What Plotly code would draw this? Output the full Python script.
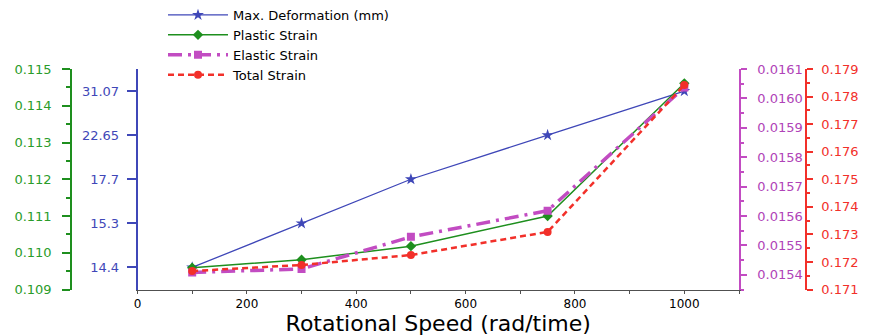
import plotly.graph_objects as go

# ---- data ----
speed = [100, 300, 500, 750, 1000]
max_deformation = [14.4, 15.3, 17.7, 22.65, 31.07]
plastic_strain = [0.10959, 0.10981, 0.11018, 0.11100, 0.11461]
elastic_strain = [0.015408, 0.015420, 0.015529, 0.015618, 0.016037]
total_strain = [0.17167, 0.17189, 0.17225, 0.17309, 0.17842]

deform_cats = [str(v) for v in max_deformation]

BLUE = "#3f47b8"
GREEN = "#1e8f1e"
MAGENTA = "#c24cc2"
RED = "#f2302a"
FONT = "DejaVu Sans"

# figure is drawn inside the page body (8px default margin)
W, H, OFF = 866, 328, 8


def px_x(v):
    return (v - OFF) / W


def px_y(v):
    return (H - (v - OFF)) / H


fig = go.Figure()
fig.add_trace(go.Scatter(x=speed, y=deform_cats, name="Max. Deformation (mm)",
                         mode="lines+markers", yaxis="y",
                         line=dict(color=BLUE, width=1.3),
                         marker=dict(symbol="star", size=9, color=BLUE)))
fig.add_trace(go.Scatter(x=speed, y=plastic_strain, name="Plastic Strain",
                         mode="lines+markers", yaxis="y2",
                         line=dict(color=GREEN, width=1.5),
                         marker=dict(symbol="diamond", size=8, color=GREEN)))
fig.add_trace(go.Scatter(x=speed, y=elastic_strain, name="Elastic Strain",
                         mode="lines+markers", yaxis="y3",
                         line=dict(color=MAGENTA, width=3.5, dash="14px,6px,3px,6px"),
                         marker=dict(symbol="square", size=8, color=MAGENTA)))
fig.add_trace(go.Scatter(x=speed, y=total_strain, name="Total Strain",
                         mode="lines+markers", yaxis="y4",
                         line=dict(color=RED, width=2.5, dash="6px,4px"),
                         marker=dict(symbol="circle", size=8, color=RED)))

xd = [px_x(137.5), px_x(739)]
yd = [px_y(289.5), px_y(69)]
TF = 13

fig.update_layout(
    width=W, height=H,
    margin=dict(l=0, r=0, t=0, b=0, autoexpand=False),
    paper_bgcolor="white", plot_bgcolor="white",
    font=dict(family=FONT, color="black"),
    showlegend=True,
    legend=dict(x=px_x(163), y=1.0 + 8 / H, xanchor="left", yanchor="top",
                bgcolor="rgba(0,0,0,0)", font=dict(family=FONT, size=13),
                itemwidth=60, tracegroupgap=0),
    xaxis=dict(domain=xd, range=[0, 1100], anchor="y", automargin=False,
               showline=True, linecolor="#505050", linewidth=1.2,
               ticks="outside", ticklen=3, tickcolor="#505050",
               tickvals=[0, 200, 400, 600, 800, 1000],
               minor=dict(ticks="outside", ticklen=3, dtick=100, tickcolor="#505050"),
               showgrid=False, zeroline=False,
               tickfont=dict(family=FONT, size=12, color="black"),
               title=dict(text="Rotational Speed (rad/time)", standoff=5,
                          font=dict(family=FONT, size=22, color="black"))),
    yaxis=dict(domain=yd, type="category", categoryorder="array", automargin=False,
               categoryarray=deform_cats, range=[-0.5, 4.5], anchor="x", side="left",
               showline=True, linecolor=BLUE, linewidth=1.5,
               ticks="outside", ticklen=9, tickcolor=BLUE, tickwidth=1.5,
               showgrid=False, zeroline=False, ticklabelstandoff=5,
               tickfont=dict(family=FONT, size=TF, color=BLUE)),
    yaxis2=dict(domain=yd, overlaying="y", anchor="free", position=px_x(71), side="left",
                range=[0.109, 0.115], dtick=0.001, tickformat=".3f", automargin=False,
                showline=True, linecolor=GREEN, linewidth=1.5,
                ticks="outside", ticklen=8, tickcolor=GREEN, tickwidth=1.5,
                minor=dict(ticks="outside", ticklen=4, dtick=0.0005, tickcolor=GREEN),
                showgrid=False, zeroline=False, ticklabelstandoff=8,
                tickfont=dict(family=FONT, size=TF, color="#2a9c2a")),
    yaxis3=dict(domain=yd, overlaying="y", anchor="x", side="right",
                range=[0.01535, 0.0161], dtick=0.0001, tickformat=".4f", automargin=False,
                showline=True, linecolor=MAGENTA, linewidth=1.5,
                ticks="outside", ticklen=6, tickcolor=MAGENTA, tickwidth=1.5,
                minor=dict(ticks="outside", ticklen=3, dtick=0.00005, tickcolor=MAGENTA),
                showgrid=False, zeroline=False, ticklabelstandoff=8,
                tickfont=dict(family=FONT, size=TF, color="#b043b8")),
    yaxis4=dict(domain=yd, overlaying="y", anchor="free", position=px_x(806), side="right",
                range=[0.171, 0.179], dtick=0.001, tickformat=".3f", automargin=False,
                showline=True, linecolor=RED, linewidth=1.5,
                ticks="outside", ticklen=6, tickcolor=RED, tickwidth=1.5,
                minor=dict(ticks="outside", ticklen=3, dtick=0.0005, tickcolor=RED),
                showgrid=False, zeroline=False, ticklabelstandoff=6,
                tickfont=dict(family=FONT, size=TF, color=RED)),
)

fig.write_html("out.html")
